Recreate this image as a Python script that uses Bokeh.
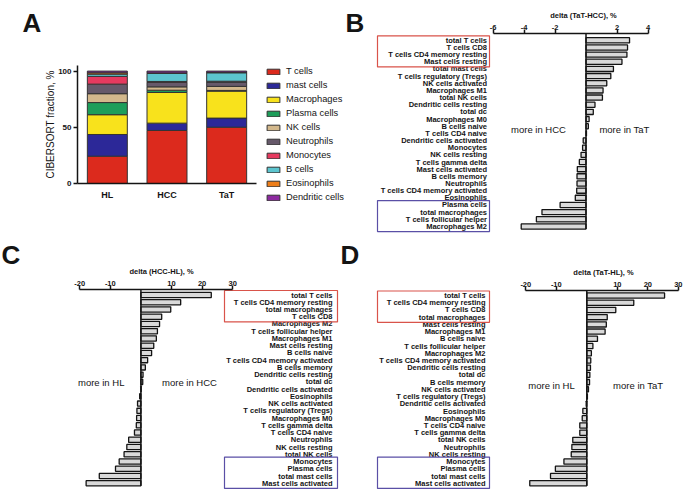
import numpy as np
from bokeh.plotting import figure
from bokeh.models import (ColumnDataSource, Range1d, Legend, LegendItem,
                          FixedTicker, LinearAxis)
from bokeh.layouts import column, row
from bokeh.embed import file_html
from bokeh.resources import INLINE
from bokeh.core.properties import value

FONT = "Liberation Sans"
INK = "#141414"
RED = "#d9534a"
BLUE = "#5a4fa6"
BAR = "#d9d9d9"

# ---------------- Panel A data ----------------
groups = ["HL", "HCC", "TaT"]
cell_types = ["T cells", "mast cells", "Macrophages", "Plasma cells", "NK cells",
              "Neutrophils", "Monocytes", "B cells", "Eosinophils", "Dendritic cells"]
t_cells = [24.3, 47.2, 50.1]
mast_cells = [19.3, 6.5, 8.1]
macrophages = [17.6, 27.3, 24.0]
plasma_cells = [10.8, 2.0, 0.6]
nk_cells = [7.9, 3.0, 3.6]
neutrophils = [8.5, 4.0, 3.8]
monocytes = [6.9, 0.8, 0.8]
b_cells = [2.0, 7.2, 7.5]
eosinophils = [1.2, 0.4, 0.3]
dendritic_cells = [1.5, 1.6, 1.2]
a_colors = ["#dc2a1d", "#2c2898", "#f8e21c", "#1d9e5a", "#d3b88c",
            "#66596a", "#e63a5f", "#5cc5cf", "#ee7e19", "#8d2aa0"]
a_ticks = [0, 50, 100]
a_ylabel = "CIBERSORT fraction, %"

# ---------------- Panel B data ----------------
b_title = "delta (TaT-HCC), %"
b_labels = ["total T cells", "T cells CD8", "T cells CD4 memory resting", "Mast cells resting",
            "total mast cells", "T cells regulatory (Tregs)", "NK cells activated", "Macrophages M1",
            "total NK cells", "Dendritic cells resting", "total dc", "Macrophages M0",
            "B cells naive", "T cells CD4 naive", "Dendritic cells activated", "Monocytes",
            "NK cells resting", "T cells gamma delta", "Mast cells activated", "B cells memory",
            "Neutrophils", "T cells CD4 memory activated", "Eosinophils", "Plasma cells",
            "total macrophages", "T cells follicular helper", "Macrophages M2"]
b_values = [2.81, 2.68, 2.64, 2.32, 1.77, 1.60, 1.34, 1.10, 1.06, 0.58, 0.47, 0.20, 0.15,
            0.03, -0.18, -0.22, -0.32, -0.43, -0.56, -0.58, -0.58, -0.60, -0.69, -1.67,
            -2.84, -3.20, -4.18]
b_ticks = [-6, -4, -2, 2, 4]
b_bounds = (-6, 4)
b_notes = ["more in HCC", "more in TaT"]

# ---------------- Panel C data ----------------
c_title = "delta (HCC-HL), %"
c_labels = ["total T cells", "T cells CD4 memory resting", "total macrophages", "T cells CD8",
            "Macrophages M2", "T cells follicular helper", "Macrophages M1", "Mast cells resting",
            "B cells naive", "T cells CD4 memory activated", "B cells memory",
            "Dendritic cells resting", "total dc", "Dendritic cells activated", "Eosinophils",
            "NK cells activated", "T cells regulatory (Tregs)", "Macrophages M0",
            "T cells gamma delta", "T cells CD4 naive", "Neutrophils", "NK cells resting",
            "total NK cells", "Monocytes", "Plasma cells", "total mast cells",
            "Mast cells activated"]
c_values = [23.0, 13.0, 9.75, 6.8, 6.1, 5.4, 5.05, 4.2, 3.5, 2.2, 1.45, 0.7, 0.6, 0.1,
            -0.4, -1.1, -1.3, -1.4, -1.5, -2.1, -4.0, -4.6, -5.5, -7.1, -8.3, -13.6, -17.9]
c_ticks = [-20, -10, 10, 20, 30]
c_bounds = (-20, 30)
c_notes = ["more in HL", "more in HCC"]

# ---------------- Panel D data ----------------
d_title = "delta (TaT-HL), %"
d_labels = ["total T cells", "T cells CD4 memory resting", "T cells CD8", "total macrophages",
            "Mast cells resting", "Macrophages M1", "B cells naive", "T cells follicular helper",
            "Macrophages M2", "T cells CD4 memory activated", "Dendritic cells resting",
            "total dc", "B cells memory", "NK cells activated", "T cells regulatory (Tregs)",
            "Dendritic cells activated", "Eosinophils", "Macrophages M0", "T cells CD4 naive",
            "T cells gamma delta", "total NK cells", "Neutrophils", "NK cells resting",
            "Monocytes", "Plasma cells", "total mast cells", "Mast cells activated"]
d_values = [25.5, 15.4, 9.5, 6.7, 6.4, 6.0, 3.5, 2.0, 1.5, 1.3, 1.2, 1.0, 0.9, 0.55, 0.2,
            -0.2, -1.3, -1.5, -2.3, -2.3, -4.6, -4.9, -5.1, -7.5, -10.3, -11.9, -18.7]
d_ticks = [-20, -10, 10, 20, 30]
d_bounds = (-20, 30)
d_notes = ["more in HL", "more in TaT"]

red_rows = (0, 3)
blue_rows = (23, 26)


def base_fig(w, h, xr, yr):
    p = figure(width=w, height=h, x_range=xr, y_range=yr, output_backend="svg",
               toolbar_location=None, x_axis_location=None, y_axis_location=None)
    p.min_border_left = 0
    p.min_border_right = 0
    p.min_border_top = 0
    p.min_border_bottom = 0
    p.outline_line_color = None
    p.grid.visible = False
    return p


def style_axis(ax, size):
    ax.major_tick_in = 0
    ax.minor_tick_in = 0
    ax.minor_tick_out = 0
    ax.major_label_text_font = FONT
    ax.major_label_text_font_size = size
    ax.major_label_text_font_style = "bold"
    ax.major_label_text_color = INK
    ax.axis_line_width = 1.5
    ax.axis_line_color = INK
    ax.major_tick_line_width = 1.5
    ax.major_tick_line_color = INK


def panel_a(g):
    def dx(px):
        return (px - g["x0"]) / g["ppx"]

    def dy(py):
        return (g["y0"] - py) / g["ppy"]

    p = base_fig(g["w"], g["h"], Range1d(dx(g["ox"]), dx(g["ox"] + g["w"])),
                 Range1d(dy(g["oy"] + g["h"]), dy(g["oy"])))
    pos = [i + 0.5 for i in range(len(groups))]
    data = dict(x=pos)
    for name, vals in zip(cell_types, [t_cells, mast_cells, macrophages, plasma_cells,
                                       nk_cells, neutrophils, monocytes, b_cells,
                                       eosinophils, dendritic_cells]):
        data[name] = vals
    src = ColumnDataSource(data)
    rs = p.vbar_stack(cell_types, x="x", width=0.67, color=a_colors, source=src,
                      line_color="#333333", line_width=1)

    ya = LinearAxis(ticker=FixedTicker(ticks=a_ticks, minor_ticks=[]), bounds=(0, 105),
                    fixed_location=0)
    style_axis(ya, "8px")
    ya.major_tick_out = 4
    ya.major_label_standoff = 2
    p.add_layout(ya, "left")

    xa = LinearAxis(ticker=FixedTicker(ticks=pos, minor_ticks=[]), bounds=(0, len(groups)),
                    fixed_location=0)
    xa.major_label_overrides = {pv: gname for pv, gname in zip(pos, groups)}
    style_axis(xa, "9px")
    xa.major_tick_out = 0
    xa.major_label_standoff = 6
    p.add_layout(xa, "below")

    p.text(x=[dx(g["ylab_x"])], y=[dy(g["ylab_y"])], text=[a_ylabel], angle=np.pi / 2,
           text_align="center", text_baseline="middle", text_font=value(FONT),
           text_font_size="10px", text_color=INK)
    p.text(x=[dx(g["letter_x"])], y=[dy(g["letter_y"])], text=["A"], text_align="left",
           text_baseline="alphabetic", text_font=value(FONT), text_font_size="26px",
           text_font_style="bold", text_color=INK)

    legend = Legend(items=[LegendItem(label=n, renderers=[r]) for n, r in zip(cell_types, rs)],
                    location=g["legend_loc"], glyph_width=16, glyph_height=7,
                    label_standoff=5, spacing=4, padding=0, margin=0,
                    border_line_color=None, background_fill_alpha=0,
                    label_text_font=FONT, label_text_font_size="9.3px",
                    label_text_color=INK, label_height=10)
    p.add_layout(legend)
    return p


def delta_panel(g, labels, values, ticks, bounds, title, notes, letter):
    def dx(px):
        return (px - g["zero"]) / g["ppu"]

    def dy(py):
        return (py - g["row0"]) / g["step"]

    p = base_fig(g["w"], g["h"], Range1d(dx(g["ox"]), dx(g["ox"] + g["w"])),
                 Range1d(dy(g["oy"] + g["h"]), dy(g["oy"])))
    n = len(labels)
    rows = list(range(n))
    src = ColumnDataSource(dict(y=rows, v=values, lab=labels))
    p.hbar(y="y", left=0, right="v", height=0.72, source=src, fill_color=BAR,
           line_color=INK, line_width=1.3)
    p.segment(x0=[0], y0=[dy(g["axis_y"])], x1=[0], y1=[n - 1 + 0.36],
              line_color=INK, line_width=1.5)
    p.text(x=dx(g["lab_r"]), y="y", text="lab", source=src, text_align="right",
           text_baseline="middle", text_font=value(FONT), text_font_style="bold",
           text_font_size="7.5px", text_color=INK)
    for (r0, r1), col in ((red_rows, RED), (blue_rows, BLUE)):
        p.quad(left=[dx(g["box_l"])], right=[dx(g["box_r"])], top=[r0 - 0.62],
               bottom=[r1 + 0.72], fill_alpha=0, line_color=col, line_width=1.2)
    p.text(x=[dx(g["note_l"]), dx(g["note_r"])], y=[dy(g["note_y"])] * 2, text=notes,
           text_align="center", text_baseline="middle", text_font=value(FONT),
           text_font_size="9.5px", text_color=INK)
    p.text(x=[dx(g["title_x"])], y=[dy(g["title_y"])], text=[title], text_align="center",
           text_baseline="middle", text_font=value(FONT), text_font_size="7.5px",
           text_font_style="bold", text_color=INK)
    p.text(x=[dx(g["letter_x"])], y=[dy(g["letter_y"])], text=[letter], text_align="left",
           text_baseline="alphabetic", text_font=value(FONT), text_font_size="26px",
           text_font_style="bold", text_color=INK)

    ax = LinearAxis(ticker=FixedTicker(ticks=ticks, minor_ticks=[]), bounds=bounds,
                    fixed_location=dy(g["axis_y"]))
    style_axis(ax, "7.5px")
    ax.major_tick_out = 4
    ax.major_label_standoff = 0
    ax.major_label_overrides = {t: str(t) for t in ticks}
    p.add_layout(ax, "above")
    return p


# layout geometry in page pixels (kept apart from the data)
ga = dict(ox=0, oy=0, w=344, h=236, x0=77, ppx=59.67, y0=183, ppy=1.124,
          ylab_x=50, ylab_y=124, letter_x=22, letter_y=22, legend_loc=(265, 34))
gb = dict(ox=344, oy=0, w=341, h=236, zero=585.5, ppu=15.5, axis_y=33, row0=39.8,
          step=7.16, lab_r=486.5, box_l=377, box_r=489, note_l=538, note_r=624,
          note_y=129, title_x=583, title_y=15, letter_x=345, letter_y=22)
gc = dict(ox=0, oy=236, w=339, h=256, zero=140.4, ppu=3.06, axis_y=289, row0=294.5,
          step=7.24, lab_r=332, box_l=224, box_r=337, note_l=100.7, note_r=189,
          note_y=381.7, title_x=161, title_y=271, letter_x=1, letter_y=254)
gd = dict(ox=339, oy=236, w=346, h=256, zero=586.3, ppu=3.05, axis_y=290, row0=295,
          step=7.22, lab_r=485, box_l=377, box_r=489, note_l=551, note_r=637.7,
          note_y=385, title_x=603, title_y=271.7, letter_x=340, letter_y=254)

pa = panel_a(ga)
pb = delta_panel(gb, b_labels, b_values, b_ticks, b_bounds, b_title, b_notes, "B")
pc = delta_panel(gc, c_labels, c_values, c_ticks, c_bounds, c_title, c_notes, "C")
pd = delta_panel(gd, d_labels, d_values, d_ticks, d_bounds, d_title, d_notes, "D")

layout = column(row(pa, pb), row(pc, pd))
open("out.html", "w").write(file_html(layout, INLINE))
